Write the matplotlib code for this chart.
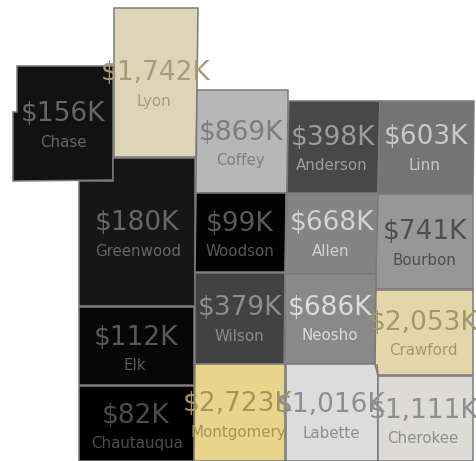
import matplotlib
matplotlib.use("Agg")
from matplotlib import pyplot as plt
from matplotlib.colors import LinearSegmentedColormap, Normalize
from matplotlib.patches import Polygon

counties = ['Chase', 'Lyon', 'Coffey', 'Anderson', 'Linn', 'Greenwood', 'Woodson', 'Allen', 'Bourbon',
            'Wilson', 'Neosho', 'Crawford', 'Elk', 'Chautauqua', 'Montgomery', 'Labette', 'Cherokee']
sales = [156, 1742, 869, 398, 603, 180, 99, 668, 741, 379, 686, 2053, 112, 82, 2723, 1016, 1111]

# outlines, in picture pixels
shapes = [
    [(17, 66), (113, 66), (113, 180), (13, 181), (13, 112), (17, 112)],
    [(114, 8), (198, 8), (197, 90), (196, 157), (114, 157)],
    [(197, 90), (288, 90), (288, 101), (287, 193), (196, 193)],
    [(289, 101), (380, 101), (379, 135), (378, 193), (287, 193), (288, 135)],
    [(380, 101), (474, 101), (473, 194), (378, 194)],
    [(79, 181), (113, 181), (113, 158), (195, 158), (195, 306), (79, 306)],
    [(196, 193), (286, 193), (285, 272), (195, 272)],
    [(287, 194), (378, 194), (377, 274), (285, 274)],
    [(378, 194), (473, 194), (473, 289), (376, 289), (376, 274)],
    [(195, 273), (285, 273), (284, 364), (195, 364)],
    [(285, 274), (376, 274), (375, 364), (285, 364)],
    [(376, 290), (473, 290), (473, 375), (378, 375), (377, 365), (375, 365)],
    [(79, 307), (194, 307), (194, 385), (79, 385)],
    [(79, 386), (194, 386), (194, 461), (79, 461)],
    [(195, 364), (285, 364), (285, 461), (194, 461)],
    [(286, 364), (375, 364), (378, 376), (378, 461), (286, 461)],
    [(378, 376), (473, 376), (473, 461), (378, 461)],
]
value_pos = [(63, 114), (156, 73), (241, 133), (333, 138), (426, 137), (137, 223), (240, 224), (332, 223),
             (425, 232), (240, 308), (330, 308), (424, 323), (136, 338), (136, 416), (238, 404), (331, 405),
             (424, 411)]
label_pos = [(63, 142), (154, 101), (240, 160), (332, 165), (424, 165), (138, 251), (240, 251), (331, 251),
             (424, 260), (239, 336), (330, 335), (423, 350), (135, 365), (137, 443), (238, 432), (331, 433),
             (423, 438)]
text_colors = ['#666666', '#a89c78', '#7d7d7d', '#9c9c9c', '#c8c8c8', '#666666', '#585858', '#d2d2d2',
               '#4e4e4e', '#8c8c8c', '#dcdcdc', '#a39770', '#585858', '#4c4c4c', '#a8935c', '#8e8e8e',
               '#8e8e8e']

stops = [82, 112, 180, 379, 398, 603, 668, 741, 869, 1016, 1111, 1742, 2053, 2723]
stop_colors = ['#000000', '#0a0a0a', '#171717', '#444444', '#4a4a4a', '#757575', '#858585', '#999999',
               '#b7b7b7', '#dcdcdc', '#dddbd8', '#ddd5b5', '#e3d6a8', '#e8d48a']
norm = Normalize(min(stops), max(stops))
cmap = LinearSegmentedColormap.from_list('sales', [(norm(s), c) for s, c in zip(stops, stop_colors)])

fig = plt.figure(figsize=(4.77, 4.61), dpi=100)
ax = fig.add_axes([0, 0, 1, 1])
ax.set_xlim(0, 477)
ax.set_ylim(461, 0)
ax.axis('off')

for i, name in enumerate(counties):
    ax.add_patch(Polygon(shapes[i], closed=True, facecolor=cmap(norm(sales[i])), edgecolor='#7a7a7a', linewidth=1.1))

# labels go on top, some of them run over the next county
for i, name in enumerate(counties):
    ax.text(value_pos[i][0], value_pos[i][1], '\\${:,}K'.format(sales[i]), color=text_colors[i], fontsize=19,
            ha='center', va='center', zorder=5)
    ax.text(label_pos[i][0], label_pos[i][1], name, color=text_colors[i], fontsize=10.8,
            ha='center', va='center', zorder=5)

fig.savefig('out.png', dpi=100)
